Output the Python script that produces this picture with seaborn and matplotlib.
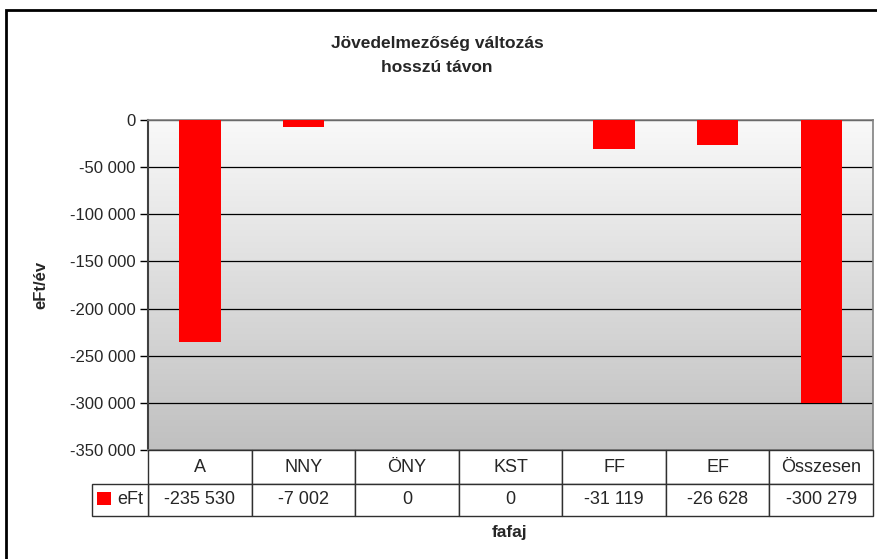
import seaborn as sns
import matplotlib.pyplot as plt
import matplotlib.ticker as mticker
from matplotlib.colors import LinearSegmentedColormap
from matplotlib.patches import Rectangle
import numpy as np
import pandas as pd

# data
fafaj = ['A', 'NNY', 'ÖNY', 'KST', 'FF', 'EF', 'Összesen']
eft = [-235530, -7002, 0, 0, -31119, -26628, -300279]
series_name = 'eFt'
table_text = ['-235 530', '-7 002', '0', '0', '-31 119', '-26 628', '-300 279']

df = pd.DataFrame({'fafaj': fafaj, 'eFt': eft, 'sorozat': series_name})

sns.set_style('white')
plt.rcParams['font.family'] = ['Liberation Sans', 'DejaVu Sans']

W, H = 877, 559
fig = plt.figure(figsize=(W / 100, H / 100), dpi=100)
ax = fig.add_axes([148 / W, 1 - 450 / H, 725 / W, 330 / H])

# gradient background of the plot area
grad = np.linspace(0, 1, 256).reshape(-1, 1)
ax.imshow(grad, extent=[0, 1, 0, 1], transform=ax.transAxes, aspect='auto',
          cmap=LinearSegmentedColormap.from_list('bg', ['#f9f9f9', '#c0c0c0']),
          zorder=0)

sns.barplot(data=df, x='fafaj', y='eFt', hue='sorozat', palette=['#ff0000'],
            width=0.4, ax=ax, saturation=1, linewidth=0, edgecolor='none', zorder=3)

ax.set_ylim(-350000, 0)
ax.set_xlim(-0.5, 6.5)
ax.yaxis.set_major_locator(mticker.MultipleLocator(50000))
ax.yaxis.set_major_formatter(mticker.FuncFormatter(lambda v, p: '{:,.0f}'.format(v).replace(',', ' ')))
ax.yaxis.grid(True, color='black', linewidth=0.9, zorder=1)
ax.set_axisbelow(True)
ax.tick_params(axis='y', which='major', left=True, length=6, width=1, color='black',
               labelsize=12, pad=3)
ax.tick_params(axis='x', bottom=False, labelbottom=False)
ax.set_xlabel('')
ax.set_ylabel('eFt/év', fontsize=12, fontweight='bold')
ax.yaxis.set_label_coords(-(148 - 48) / 725, 0.5)
for s in ['top', 'right', 'bottom']:
    ax.spines[s].set_color('#808080')
    ax.spines[s].set_linewidth(1.2)
ax.spines['left'].set_color('#404040')
ax.spines['left'].set_linewidth(1.5)

# data table below the plot (drawn by hand, in axes coordinates)
r1 = 34 / 330
r2 = 32 / 330
cw = 1 / len(fafaj)
lab_w = 56 / 725
cell_kw = dict(transform=ax.transAxes, clip_on=False, facecolor='white',
               edgecolor='#303030', linewidth=1.0, zorder=5)
for i, (name, txt) in enumerate(zip(fafaj, table_text)):
    ax.add_patch(Rectangle((i * cw, -r1), cw, r1, **cell_kw))
    ax.add_patch(Rectangle((i * cw, -r1 - r2), cw, r2, **cell_kw))
    ax.text((i + 0.5) * cw, -r1 / 2, name, transform=ax.transAxes, ha='center',
            va='center', fontsize=13, zorder=6)
    ax.text((i + 0.5) * cw, -r1 - r2 / 2, txt, transform=ax.transAxes, ha='center',
            va='center', fontsize=13, zorder=6)
ax.add_patch(Rectangle((-lab_w, -r1 - r2), lab_w, r2, **cell_kw))

leg = ax.legend(loc='center', bbox_to_anchor=(-lab_w / 2, -r1 - r2 / 2), frameon=False,
                fontsize=13, handlelength=0.75, handleheight=0.75, handletextpad=0.35,
                borderpad=0, borderaxespad=0)
leg.set_zorder(7)

fig.text(437 / W, 1 - 55.5 / H, 'Jövedelmezőség változás\nhosszú távon', ha='center',
         va='center', fontsize=12.5, fontweight='bold', linespacing=1.75)
fig.text(510 / W, 1 - 532 / H, 'fafaj', ha='center', va='center',
         fontsize=12.5, fontweight='bold')

# outer chart frame
fig.patches.append(Rectangle((6 / W, -0.1), 1.2, 1.1 - 10 / H, transform=fig.transFigure,
                             fill=False, edgecolor='black', linewidth=2, zorder=10))

plt.savefig('out.png', dpi=100)
